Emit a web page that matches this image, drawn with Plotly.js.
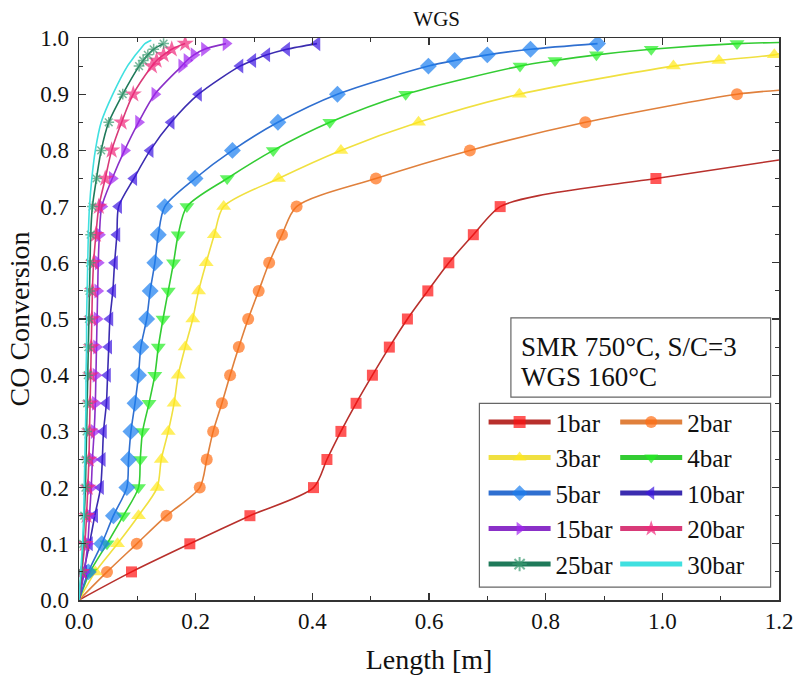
<!DOCTYPE html>
<html><head><meta charset="utf-8">
<script src="https://cdn.plot.ly/plotly-3.0.1.min.js"></script>
<style>html,body{margin:0;padding:0;background:#fff}#chart{width:800px;height:685px}</style>
</head><body><div id="chart"></div>
<script>
// ---- data (Length [m] vs CO conversion), markers ----
const names = ['1bar','2bar','3bar','4bar','5bar','10bar','15bar','20bar','25bar','30bar'];

const L_1bar = [0.090,0.190,0.293,0.402,0.425,0.449,0.475,0.503,0.532,0.563,0.598,0.634,0.676,0.722,0.989];
const C_1bar = [0.05,0.10,0.15,0.20,0.25,0.30,0.35,0.40,0.45,0.50,0.55,0.60,0.65,0.70,0.75];
const lineL_1bar = [0, 0.80, 1.2];
const lineC_1bar = [0, 0.722, 0.783];

const L_2bar = [0.048,0.099,0.150,0.207,0.219,0.230,0.245,0.259,0.274,0.290,0.308,0.326,0.348,0.373,0.509,0.670,0.868,1.128];
const C_2bar = [0.05,0.10,0.15,0.20,0.25,0.30,0.35,0.40,0.45,0.50,0.55,0.60,0.65,0.70,0.75,0.80,0.85,0.90];
const lineL_2bar = [0, 1.2];
const lineC_2bar = [0, 0.907];

const L_3bar = [0.028,0.066,0.102,0.134,0.141,0.153,0.163,0.170,0.182,0.195,0.205,0.218,0.232,0.248,0.342,0.449,0.582,0.755,1.019,1.097,1.192];
const C_3bar = [0.05,0.10,0.15,0.20,0.25,0.30,0.35,0.40,0.45,0.50,0.55,0.60,0.65,0.70,0.75,0.80,0.85,0.90,0.95,0.96,0.97];
const lineL_3bar = [0, 1.2];
const lineC_3bar = [0, 0.972];

const L_4bar = [0.019,0.048,0.076,0.102,0.105,0.109,0.120,0.130,0.136,0.144,0.153,0.162,0.170,0.185,0.254,0.333,0.430,0.560,0.756,0.816,0.887,0.981,1.128];
const C_4bar = [0.05,0.10,0.15,0.20,0.25,0.30,0.35,0.40,0.45,0.50,0.55,0.60,0.65,0.70,0.75,0.80,0.85,0.90,0.95,0.96,0.97,0.98,0.99];
const lineL_4bar = [0, 1.2];
const lineC_4bar = [0, 0.992];

const L_5bar = [0.016,0.039,0.059,0.082,0.085,0.089,0.096,0.102,0.106,0.116,0.122,0.130,0.136,0.147,0.199,0.263,0.341,0.443,0.599,0.644,0.700,0.774,0.889];
const C_5bar = [0.05,0.10,0.15,0.20,0.25,0.30,0.35,0.40,0.45,0.50,0.55,0.60,0.65,0.70,0.75,0.80,0.85,0.90,0.95,0.96,0.97,0.98,0.99];
const lineL_5bar = [0];
const lineC_5bar = [0];

const L_10bar = [0.008,0.018,0.027,0.037,0.040,0.042,0.047,0.049,0.051,0.053,0.058,0.061,0.065,0.068,0.094,0.122,0.158,0.205,0.276,0.298,0.322,0.356,0.408];
const C_10bar = [0.05,0.10,0.15,0.20,0.25,0.30,0.35,0.40,0.45,0.50,0.55,0.60,0.65,0.70,0.75,0.80,0.85,0.90,0.95,0.96,0.97,0.98,0.99];
const lineL_10bar = [0];
const lineC_10bar = [0];

const L_15bar = [0.009,0.015,0.018,0.021,0.023,0.026,0.028,0.029,0.030,0.031,0.032,0.033,0.035,0.039,0.057,0.078,0.102,0.130,0.176,0.185,0.197,0.215,0.252];
const C_15bar = [0.05,0.10,0.15,0.20,0.25,0.30,0.35,0.40,0.45,0.50,0.55,0.60,0.65,0.70,0.75,0.80,0.85,0.90,0.95,0.96,0.97,0.98,0.99];
const lineL_15bar = [0];
const lineC_15bar = [0];

const L_20bar = [0.005,0.010,0.013,0.015,0.017,0.018,0.019,0.020,0.021,0.022,0.023,0.025,0.029,0.034,0.045,0.056,0.073,0.093,0.125,0.133,0.145,0.159,0.182];
const C_20bar = [0.05,0.10,0.15,0.20,0.25,0.30,0.35,0.40,0.45,0.50,0.55,0.60,0.65,0.70,0.75,0.80,0.85,0.90,0.95,0.96,0.97,0.98,0.99];
const lineL_20bar = [0];
const lineC_20bar = [0];

const L_25bar = [0.004,0.007,0.009,0.011,0.012,0.013,0.014,0.015,0.016,0.017,0.018,0.019,0.020,0.023,0.030,0.038,0.051,0.075,0.103,0.110,0.118,0.128,0.145];
const C_25bar = [0.05,0.10,0.15,0.20,0.25,0.30,0.35,0.40,0.45,0.50,0.55,0.60,0.65,0.70,0.75,0.80,0.85,0.90,0.95,0.96,0.97,0.98,0.99];
const lineL_25bar = [0];
const lineC_25bar = [0];

const L_30bar = [0.003,0.006,0.008,0.009,0.010,0.011,0.012,0.012,0.013,0.013,0.014,0.015,0.016,0.018,0.022,0.028,0.038,0.058,0.083,0.090,0.097,0.105,0.113,0.124];
const C_30bar = [0.05,0.10,0.15,0.20,0.25,0.30,0.35,0.40,0.45,0.50,0.55,0.60,0.65,0.70,0.75,0.80,0.85,0.90,0.95,0.96,0.97,0.98,0.99,0.996];
const lineL_30bar = [0];
const lineC_30bar = [0];

const markL = [L_1bar,L_2bar,L_3bar,L_4bar,L_5bar,L_10bar,L_15bar,L_20bar,L_25bar,L_30bar];
const markC = [C_1bar,C_2bar,C_3bar,C_4bar,C_5bar,C_10bar,C_15bar,C_20bar,C_25bar,C_30bar];
const lineL = [lineL_1bar,lineL_2bar,lineL_3bar,lineL_4bar,lineL_5bar,lineL_10bar,lineL_15bar,lineL_20bar,lineL_25bar,lineL_30bar];
const lineC = [lineC_1bar,lineC_2bar,lineC_3bar,lineC_4bar,lineC_5bar,lineC_10bar,lineC_15bar,lineC_20bar,lineC_25bar,lineC_30bar];

// ---- styles ----
const markerColors = ['#ff1010','#ff6e14','#ffe81a','#22ee22','#1a7ef0','#3a14e0','#a024f0','#f0287a','#3a9a70','#33e0e0'];
const lineColors   = ['#b8302c','#e0803c','#f0e040','#33cc33','#2f6fd0','#3b2cb0','#8a30c8','#d83a78','#1f7a5a','#40e0e0'];
const symbols = ['square','circle','triangle-up','triangle-down','diamond','triangle-left','triangle-right','star','asterisk-open',null];
const sizes = [11,12,13,13,13,13,13,13,9,0];
const FONT = 'Liberation Serif, Times New Roman, serif';

const traces = names.map((nm, i) => {
  const pts = [];
  markL[i].forEach((x, k) => pts.push({x: x, y: markC[i][k], m: true}));
  lineL[i].forEach((x, k) => pts.push({x: x, y: lineC[i][k], m: false}));
  pts.sort((a, b) => a.x - b.x || a.y - b.y);
  const hasMarker = symbols[i] !== null;
  const tr = {
    type: 'scatter',
    name: nm,
    x: pts.map(p => p.x),
    y: pts.map(p => p.y),
    mode: hasMarker ? 'lines+markers' : 'lines',
    line: {color: lineColors[i], width: 1.6, shape: 'spline', smoothing: 0.8},
    legend: (i % 2 === 0) ? 'legend' : 'legend2'
  };
  if (hasMarker) {
    tr.marker = {
      symbol: symbols[i],
      color: markerColors[i],
      size: pts.map(p => p.m ? sizes[i] : 0),
      line: {width: symbols[i] === 'asterisk-open' ? 1.5 : 0, color: markerColors[i]}
    };
  }
  return tr;
});

const legendCommon = {
  xanchor: 'left', yanchor: 'top', bgcolor: 'rgba(0,0,0,0)', borderwidth: 0,
  font: {family: FONT, size: 25, color: '#111'}, itemsizing: 'constant', itemwidth: 62,
  tracegroupgap: 0
};

const layout = {
  width: 800, height: 685,
  margin: {l: 79, r: 21, t: 38, b: 85},
  paper_bgcolor: '#fff', plot_bgcolor: '#fff',
  font: {family: FONT, color: '#111'},
  title: {text: 'WGS', font: {family: FONT, size: 21, color: '#111'}, xref: 'paper', x: 0.511, xanchor: 'center', yref: 'container', y: 0.973, yanchor: 'middle'},
  xaxis: {
    range: [0, 1.2], tick0: 0, dtick: 0.2, tickformat: '.1f',
    ticks: 'inside', ticklen: 7, tickwidth: 1.2, tickcolor: '#333',
    minor: {dtick: 0.1, ticks: 'inside', ticklen: 4, tickcolor: '#333', tickwidth: 1},
    mirror: 'ticks', showline: true, linecolor: '#333', linewidth: 1.5,
    showgrid: false, zeroline: false,
    tickfont: {family: FONT, size: 23, color: '#111'},
    title: {text: 'Length [m]', font: {family: FONT, size: 28, color: '#111'}, standoff: 16}
  },
  yaxis: {
    range: [0, 1], tick0: 0, dtick: 0.1, tickformat: '.1f',
    ticks: 'inside', ticklen: 7, tickwidth: 1.2, tickcolor: '#333',
    minor: {dtick: 0.05, ticks: 'inside', ticklen: 4, tickcolor: '#333', tickwidth: 1},
    mirror: 'ticks', showline: true, linecolor: '#333', linewidth: 1.5,
    showgrid: false, zeroline: false,
    tickfont: {family: FONT, size: 23, color: '#111'},
    ticklabelstandoff: 4,
    title: {text: 'CO Conversion', font: {family: FONT, size: 28, color: '#111'}, standoff: 2}
  },
  legend: Object.assign({x: 0.578, y: 0.357}, legendCommon),
  legend2: Object.assign({x: 0.766, y: 0.357}, legendCommon),
  shapes: [
    {type: 'rect', xref: 'paper', yref: 'paper', x0: 0.572, x1: 0.988, y0: 0.023, y1: 0.350, line: {color: '#666', width: 1.2}, fillcolor: 'rgba(0,0,0,0)'},
    {type: 'rect', xref: 'paper', yref: 'paper', x0: 0.617, x1: 0.988, y0: 0.361, y1: 0.502, line: {color: '#666', width: 1.2}, fillcolor: 'rgba(0,0,0,0)'}
  ],
  annotations: [
    {xref: 'paper', yref: 'paper', x: 0.629, y: 0.45, xanchor: 'left', yanchor: 'middle', showarrow: false, align: 'left',
     text: 'SMR 750°C, S/C=3', font: {family: FONT, size: 27, color: '#111'}},
    {xref: 'paper', yref: 'paper', x: 0.629, y: 0.396, xanchor: 'left', yanchor: 'middle', showarrow: false, align: 'left',
     text: 'WGS 160°C', font: {family: FONT, size: 27, color: '#111'}}
  ]
};

Plotly.newPlot('chart', traces, layout, {displayModeBar: false, staticPlot: true});
</script>
</body></html>
